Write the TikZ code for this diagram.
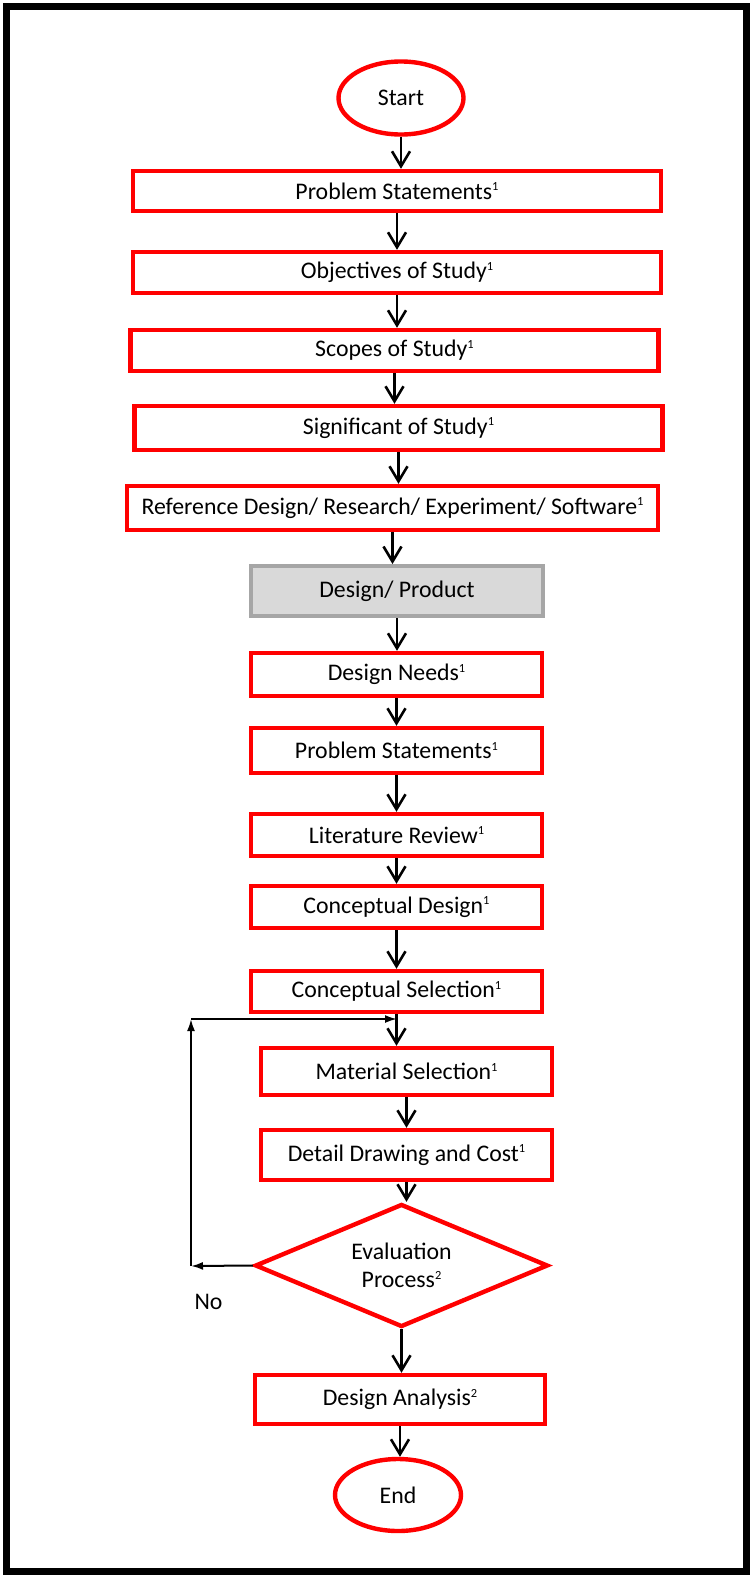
\documentclass[tikz,border=0pt]{standalone}
\usepackage{fontspec}
\setmainfont{Carlito}
\usetikzlibrary{arrows.meta, positioning, shapes.geometric}
\newcommand{\fnmark}[1]{\raisebox{0.75ex}{\fontsize{6.2}{6.2}\selectfont #1}}

\begin{document}
\begin{tikzpicture}[x=0.5pt, y=-0.5pt,
    every node/.style={font=\fontsize{11.9}{14}\selectfont},
    redbox/.style={draw=red, line width=2.2pt, inner sep=0pt, minimum height=21pt},
    widebox/.style={redbox, minimum width=264pt},
    narrowbox/.style={redbox, minimum width=145.5pt},
    greybox/.style={draw=black!35, fill=black!15, line width=2pt, inner sep=0pt,
        minimum width=146pt, minimum height=25pt},
    terminal/.style={ellipse, draw=red, line width=2.2pt, inner sep=0pt,
        minimum width=62.5pt, minimum height=36.5pt},
    decision/.style={diamond, draw=red, line width=2.2pt, inner sep=0pt, align=center,
        aspect=2.4, minimum width=146.5pt, minimum height=61.5pt},
    flow/.style={-{Straight Barb[length=7.5pt,width=9pt]}, line width=1.3pt},
    backline/.style={-{Latex[length=6pt,width=4pt]}, line width=1pt},
]
\useasboundingbox (0,0) rectangle (750,1575);
\draw[line width=3.5pt] (6.5,6.5) rectangle (746.5,1571.5);

% study part
\node[terminal] (start) at (401,98) {Start};
\node[widebox, minimum height=20pt] (ps1) at (397,191) {Problem Statements\fnmark{1}};
\node[widebox, minimum height=20.5pt] (obj) at (397,272.5) {Objectives of Study\fnmark{1}};
\node[widebox, minimum height=20.5pt] (scope) at (394.5,350.5) {Scopes of Study\fnmark{1}};
\node[widebox, minimum height=22pt] (sig) at (398.5,428) {Significant of Study\fnmark{1}};
\node[widebox, minimum width=265.5pt, minimum height=22pt] (ref) at (392.5,508)
    {Reference Design/ Research/ Experiment/ Software\fnmark{1}};
\node[greybox] (dp) at (397,591) {Design/ Product};

% design part
\node[narrowbox, minimum height=21.5pt] (needs) at (396.5,674.5) {Design Needs\fnmark{1}};
\node[narrowbox, minimum height=22.5pt] (ps2) at (396.5,750.5) {Problem Statements\fnmark{1}};
\node[narrowbox] (lit) at (396.5,835) {Literature Review\fnmark{1}};
\node[narrowbox] (cd) at (396.5,907) {Conceptual Design\fnmark{1}};
\node[narrowbox, minimum height=20.5pt] (cs) at (396.5,991.5) {Conceptual Selection\fnmark{1}};
\node[narrowbox, minimum height=23.5pt] (mat) at (406.5,1071.5) {Material Selection\fnmark{1}};
\node[narrowbox, minimum height=25pt] (det) at (406.5,1155) {Detail Drawing and Cost\fnmark{1}};
\node[decision] (eval) at (401.5,1265.5) {Evaluation\\Process\fnmark{2}};
\node[narrowbox, minimum width=145pt, minimum height=24.5pt] (da) at (400,1399.5) {Design Analysis\fnmark{2}};
\node[terminal, minimum width=63pt, minimum height=36pt] (end) at (398,1495) {End};
\node (no) at (208.5,1302) {No};

\foreach \a/\b in {start/ps1, ps1/obj, obj/scope, scope/sig, sig/ref, ref/dp, dp/needs,
    needs/ps2, ps2/lit, lit/cd, cd/cs, cs/mat, mat/det, det/eval, eval/da, da/end}
    \draw[flow] (\a.south) -- (\a.south |- \b.north);

% back to selection
\coordinate (lpa) at (191,1266);
\coordinate (lpb) at (191,1019);
\coordinate (lpc) at (397,1019);
\draw[backline] (eval.west) -- (lpa);
\draw[backline] (lpa) -- (lpb);
\draw[backline] (lpb) -- (lpc);
\end{tikzpicture}
\end{document}
